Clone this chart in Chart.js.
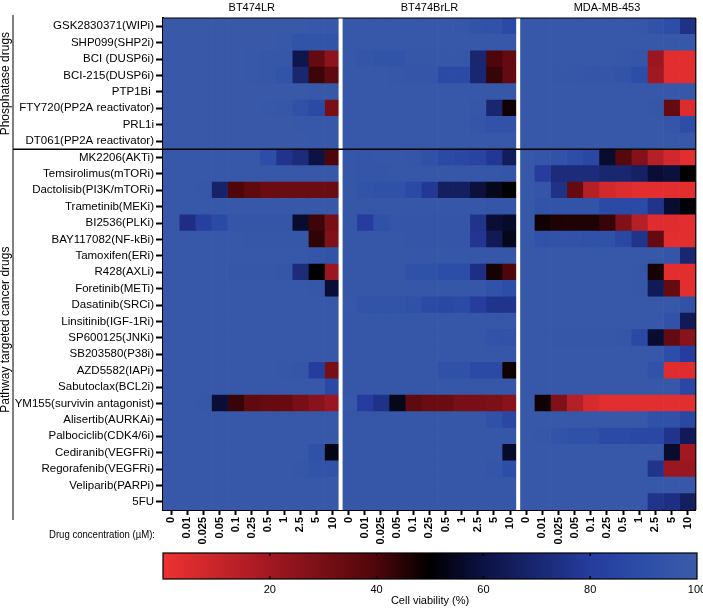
<!DOCTYPE html>
<html>
<head>
<meta charset="utf-8">
<script src="https://cdn.jsdelivr.net/npm/chart.js@4"></script>
<style>
  body { margin: 0; background: #fff; }
  canvas { display: block; }
</style>
</head>
<body>
<canvas id="heat" width="703" height="548"></canvas>
<canvas id="bar" width="703" height="60"></canvas>
<script>
// Drugs (rows, top to bottom)
const drugs = [
    'GSK2830371(WIPi)', 'SHP099(SHP2i)', 'BCI (DUSP6i)', 'BCI-215(DUSP6i)', 'PTP1Bi ',
    'FTY720(PP2A reactivator)', 'PRL1i', 'DT061(PP2A reactivator)',
    'MK2206(AKTi)', 'Temsirolimus(mTORi)', 'Dactolisib(PI3K/mTORi)', 'Trametinib(MEKi)',
    'BI2536(PLKi)', 'BAY117082(NF-kBi)', 'Tamoxifen(ERi)', 'R428(AXLi)', 'Foretinib(METi)',
    'Dasatinib(SRCi)', 'Linsitinib(IGF-1Ri)', 'SP600125(JNKi)', 'SB203580(P38i)',
    'AZD5582(IAPi)', 'Sabutoclax(BCL2i)', 'YM155(survivin antagonist)', 'Alisertib(AURKAi)',
    'Palbociclib(CDK4/6i)', 'Cediranib(VEGFRi)', 'Regorafenib(VEGFRi)', 'Veliparib(PARPi)', '5FU'
];
const groups = ['Phosphatase drugs', 'Pathway targeted cancer drugs'];
const cellLines = ['BT474LR', 'BT474BrLR', 'MDA-MB-453'];
const concentrations = ['0', '0.01', '0.025', '0.05', '0.1', '0.25', '0.5', '1', '2.5', '5', '10'];

// Cell viability (%) per drug row, per concentration
const bt474lr = [
    [98, 98, 98, 98, 98, 98, 98, 98, 98, 97, 97],
    [98, 98, 98, 98, 98, 98, 98, 97, 94, 94, 94],
    [98, 98, 98, 98, 98, 97, 96, 96, 62, 35, 25],
    [98, 98, 98, 98, 98, 97, 96, 94, 70, 42, 36],
    [98, 98, 98, 98, 98, 98, 98, 98, 98, 97, 97],
    [98, 98, 98, 98, 98, 98, 97, 96, 92, 88, 30],
    [98, 98, 98, 98, 98, 98, 98, 98, 97, 97, 97],
    [98, 98, 98, 98, 98, 98, 98, 98, 98, 97, 97],
    [97, 97, 97, 97, 97, 97, 90, 76, 72, 60, 40],
    [97, 97, 97, 97, 97, 97, 97, 97, 97, 97, 97],
    [97, 97, 96, 68, 40, 36, 33, 33, 33, 33, 33],
    [97, 97, 97, 97, 97, 97, 97, 97, 97, 97, 97],
    [97, 74, 82, 88, 95, 95, 95, 95, 57, 42, 30],
    [97, 97, 97, 97, 97, 96, 96, 96, 96, 44, 28],
    [97, 97, 97, 97, 97, 97, 97, 97, 97, 95, 94],
    [97, 97, 97, 97, 96, 96, 96, 95, 72, 50, 22],
    [97, 97, 97, 97, 97, 97, 97, 97, 97, 96, 58],
    [97, 97, 97, 97, 97, 97, 97, 97, 97, 97, 97],
    [97, 97, 97, 97, 97, 97, 97, 97, 97, 97, 97],
    [97, 97, 97, 97, 97, 97, 97, 97, 97, 97, 97],
    [97, 97, 97, 97, 97, 97, 97, 97, 97, 97, 97],
    [97, 97, 97, 97, 97, 97, 97, 96, 95, 80, 30],
    [97, 97, 97, 97, 97, 97, 97, 97, 97, 97, 87],
    [97, 97, 96, 58, 43, 36, 34, 34, 30, 26, 22],
    [97, 97, 97, 97, 97, 97, 97, 97, 97, 97, 97],
    [97, 97, 97, 97, 97, 97, 97, 97, 97, 97, 97],
    [97, 97, 97, 97, 97, 97, 97, 97, 97, 92, 53],
    [97, 97, 97, 97, 97, 97, 97, 97, 96, 94, 93],
    [97, 97, 97, 97, 97, 97, 97, 97, 97, 97, 97],
    [97, 97, 97, 97, 97, 97, 97, 97, 97, 97, 97]
];
const bt474brlr = [
    [97, 97, 97, 97, 97, 97, 97, 96, 94, 93, 88],
    [97, 97, 97, 97, 97, 97, 97, 97, 97, 97, 97],
    [97, 95, 94, 94, 96, 96, 96, 96, 70, 40, 35],
    [97, 97, 97, 96, 95, 95, 88, 88, 70, 43, 35],
    [97, 97, 97, 97, 97, 97, 97, 97, 97, 97, 97],
    [97, 97, 97, 97, 97, 97, 97, 97, 96, 70, 48],
    [97, 97, 97, 97, 97, 97, 97, 97, 95, 93, 93],
    [97, 97, 97, 97, 97, 97, 97, 97, 97, 97, 97],
    [96, 95, 96, 96, 95, 92, 88, 86, 84, 78, 65],
    [96, 95, 95, 96, 96, 96, 96, 96, 96, 96, 95],
    [96, 94, 92, 92, 88, 78, 66, 66, 59, 54, 50],
    [96, 96, 96, 96, 96, 96, 96, 96, 96, 95, 95],
    [96, 80, 92, 95, 95, 95, 95, 95, 76, 58, 56],
    [96, 96, 96, 96, 95, 95, 95, 95, 77, 64, 54],
    [96, 96, 96, 96, 96, 96, 96, 96, 96, 96, 96],
    [96, 96, 96, 96, 92, 92, 90, 90, 74, 47, 40],
    [96, 96, 96, 96, 96, 96, 96, 96, 96, 93, 90],
    [97, 94, 94, 94, 92, 88, 86, 88, 80, 76, 76],
    [96, 96, 96, 96, 96, 96, 96, 96, 96, 96, 96],
    [96, 96, 96, 96, 96, 96, 96, 96, 96, 94, 93],
    [96, 96, 96, 96, 96, 96, 96, 96, 96, 96, 96],
    [96, 96, 96, 96, 96, 96, 92, 92, 88, 88, 48],
    [96, 96, 96, 96, 96, 96, 96, 96, 96, 96, 96],
    [97, 80, 75, 54, 36, 33, 33, 30, 30, 29, 26],
    [96, 96, 96, 96, 96, 96, 96, 96, 96, 92, 86],
    [96, 96, 96, 96, 96, 96, 96, 96, 96, 96, 96],
    [96, 96, 96, 96, 96, 96, 96, 96, 96, 96, 56],
    [96, 96, 96, 96, 96, 96, 96, 96, 96, 95, 90],
    [96, 96, 96, 96, 96, 96, 96, 96, 96, 96, 96],
    [96, 96, 96, 96, 96, 96, 96, 96, 96, 96, 96]
];
const mdamb453 = [
    [97, 97, 97, 97, 97, 97, 97, 96, 93, 90, 75],
    [97, 97, 97, 97, 97, 97, 97, 97, 97, 97, 97],
    [97, 97, 97, 97, 97, 97, 96, 95, 22, 3, 3],
    [97, 97, 96, 96, 95, 95, 94, 90, 20, 3, 3],
    [97, 97, 97, 97, 97, 97, 97, 97, 97, 97, 97],
    [97, 97, 97, 97, 97, 97, 97, 97, 96, 35, 5],
    [97, 97, 97, 97, 97, 97, 97, 97, 97, 95, 90],
    [97, 97, 97, 97, 97, 97, 97, 97, 97, 97, 97],
    [97, 95, 93, 90, 86, 57, 38, 27, 15, 8, 3],
    [97, 80, 72, 72, 72, 70, 70, 67, 58, 59, 50],
    [97, 95, 75, 35, 15, 7, 5, 3, 3, 3, 3],
    [97, 94, 94, 94, 94, 88, 88, 88, 76, 57, 51],
    [97, 48, 46, 46, 46, 43, 28, 15, 4, 4, 3],
    [97, 93, 93, 93, 92, 92, 86, 76, 35, 3, 3],
    [97, 97, 97, 97, 97, 97, 97, 97, 97, 95, 70],
    [97, 97, 97, 97, 97, 97, 97, 96, 47, 3, 3],
    [97, 97, 97, 97, 97, 97, 97, 96, 64, 35, 3],
    [97, 97, 97, 97, 97, 97, 97, 97, 97, 97, 93],
    [97, 97, 97, 97, 97, 97, 97, 97, 97, 93, 64],
    [97, 97, 96, 96, 96, 96, 95, 87, 57, 35, 26],
    [97, 97, 97, 97, 97, 97, 97, 97, 97, 90, 80],
    [97, 97, 97, 97, 97, 97, 97, 97, 93, 4, 4],
    [97, 97, 97, 97, 97, 97, 97, 97, 97, 97, 86],
    [97, 48, 28, 15, 6, 3, 3, 3, 3, 3, 3],
    [97, 97, 97, 97, 97, 97, 97, 97, 92, 92, 86],
    [97, 96, 94, 92, 92, 88, 88, 86, 86, 76, 64],
    [97, 97, 97, 97, 97, 97, 97, 97, 97, 57, 20],
    [97, 97, 97, 97, 97, 97, 97, 97, 76, 22, 22],
    [97, 97, 97, 97, 97, 97, 97, 97, 97, 97, 97],
    [97, 97, 97, 97, 97, 97, 97, 97, 76, 74, 66]
];
const blocks = [bt474lr, bt474brlr, mdamb453];

// Colour scale: red (0) -> black (50) -> blue (100)
const colorStops = [
    [0, [238, 50, 50]],
    [20, [162, 24, 34]],
    [40, [78, 6, 10]],
    [50, [0, 0, 0]],
    [60, [12, 18, 68]],
    [80, [38, 60, 158]],
    [90, [44, 78, 168]],
    [100, [60, 92, 168]]
];

function viabilityColor(v) {
    for (let i = 1; i < colorStops.length; i++) {
        const [v1, c1] = colorStops[i];
        const [v0, c0] = colorStops[i - 1];
        if (v <= v1) {
            const t = (v - v0) / (v1 - v0);
            const c = c0.map((ch, k) => Math.round(ch + (c1[k] - ch) * t));
            return `rgb(${c[0]},${c[1]},${c[2]})`;
        }
    }
    const last = colorStops[colorStops.length - 1][1];
    return `rgb(${last[0]},${last[1]},${last[2]})`;
}

Chart.defaults.font.family = '"Liberation Sans", Arial, sans-serif';
Chart.defaults.color = '#000';

const nCols = cellLines.length * concentrations.length;

// One stacked dataset per column (cell line x concentration)
const datasets = [];
blocks.forEach((block, b) => {
    concentrations.forEach((conc, c) => {
        datasets.push({
            label: cellLines[b] + ' ' + conc,
            data: drugs.map(() => 1),
            backgroundColor: block.map(row => viabilityColor(row[c])),
            borderWidth: 0,
            barPercentage: 1,
            categoryPercentage: 1
        });
    });
});

function line(ctx, x1, y1, x2, y2) {
    ctx.beginPath();
    ctx.moveTo(x1, y1);
    ctx.lineTo(x2, y2);
    ctx.stroke();
}

// Extra decorations: block gaps, frame, group brackets, headers
const heatDecor = {
    id: 'heatDecor',
    afterDatasetsDraw(chart) {
        const { ctx, chartArea: a, scales: { x, y } } = chart;
        ctx.save();

        // white gaps between cell lines
        ctx.strokeStyle = '#fff';
        ctx.lineWidth = 4;
        for (let b = 1; b < cellLines.length; b++) {
            const px = x.getPixelForValue(b * concentrations.length);
            line(ctx, px, a.top, px, a.bottom);
        }

        // frame
        ctx.strokeStyle = '#000';
        ctx.lineWidth = 1.2;
        line(ctx, a.left, a.top, a.right, a.top);
        line(ctx, a.right, a.top, a.right, a.bottom);

        // group separator and bracket
        const yb = (y.getPixelForValue(7) + y.getPixelForValue(8)) / 2;
        ctx.lineWidth = 1.5;
        line(ctx, 13, yb, a.right, yb);
        ctx.lineWidth = 1;
        line(ctx, 13, 15, 13, 520);

        // group labels
        ctx.font = '12px "Liberation Sans", Arial, sans-serif';
        ctx.fillStyle = '#000';
        ctx.textAlign = 'center';
        ctx.textBaseline = 'middle';
        const groupMid = [(a.top + yb) / 2, (yb + 520) / 2 - 5];
        groups.forEach((g, i) => {
            ctx.save();
            ctx.translate(6, groupMid[i]);
            ctx.rotate(-Math.PI / 2);
            ctx.fillText(g, 0, 0);
            ctx.restore();
        });

        // cell line headers
        ctx.font = '11px "Liberation Sans", Arial, sans-serif';
        cellLines.forEach((name, b) => {
            const cx = x.getPixelForValue(b * concentrations.length + concentrations.length / 2);
            ctx.fillText(name, cx, 8);
        });

        // x axis caption
        ctx.textAlign = 'right';
        ctx.font = '11px "Liberation Sans", Arial, sans-serif';
        ctx.fillText('Drug concentration (\u00b5M):', 155, 535, 106);

        ctx.restore();
    }
};

new Chart(document.getElementById('heat'), {
    type: 'bar',
    data: { labels: drugs, datasets },
    options: {
        indexAxis: 'y',
        responsive: false,
        animation: false,
        layout: { padding: { top: 18, right: 6, left: 0, bottom: 0 } },
        plugins: { legend: { display: false }, tooltip: { enabled: false } },
        scales: {
            x: {
                type: 'linear',
                stacked: true,
                min: 0,
                max: nCols,
                afterBuildTicks: scale => {
                    scale.ticks = [];
                    for (let i = 0; i < nCols; i++) scale.ticks.push({ value: i + 0.5 });
                },
                afterFit: scale => { scale.height = 38; },
                ticks: {
                    autoSkip: false,
                    maxRotation: 90,
                    minRotation: 90,
                    padding: 2,
                    font: { size: 11, weight: 'bold' },
                    callback: value => concentrations[Math.floor(value) % concentrations.length]
                },
                grid: {
                    drawOnChartArea: false,
                    tickLength: 5,
                    tickWidth: 2,
                    tickColor: '#000'
                },
                border: { color: '#000', width: 2 }
            },
            y: {
                stacked: true,
                afterFit: scale => { scale.width = 163; },
                ticks: {
                    autoSkip: false,
                    padding: 2,
                    font: { size: 11.5 }
                },
                grid: {
                    offset: false,
                    drawOnChartArea: false,
                    tickLength: 7,
                    tickWidth: 2,
                    tickColor: '#000'
                },
                border: { color: '#000', width: 2 }
            }
        }
    },
    plugins: [heatDecor]
});

// Colour bar legend
const barTicks = [20, 40, 60, 80];
const barDecor = {
    id: 'barDecor',
    afterDatasetsDraw(chart) {
        const { ctx, chartArea: a, scales: { x } } = chart;
        ctx.save();
        ctx.strokeStyle = '#000';
        ctx.lineWidth = 1.2;
        ctx.strokeRect(a.left, a.top, a.width, a.height);
        ctx.lineWidth = 1.5;
        barTicks.forEach(v => {
            const px = x.getPixelForValue(v);
            line(ctx, px, a.top, px, a.top + 3);
            line(ctx, px, a.bottom - 3, px, a.bottom);
        });
        ctx.restore();
    }
};

new Chart(document.getElementById('bar'), {
    type: 'bar',
    data: {
        labels: [''],
        datasets: [{
            data: [[0, 100]],
            barPercentage: 1,
            categoryPercentage: 1,
            borderWidth: 0,
            backgroundColor: context => {
                const area = context.chart.chartArea;
                if (!area) return null;
                const g = context.chart.ctx.createLinearGradient(area.left, 0, area.right, 0);
                colorStops.forEach(([v, c]) => g.addColorStop(v / 100, `rgb(${c[0]},${c[1]},${c[2]})`));
                return g;
            }
        }]
    },
    options: {
        indexAxis: 'y',
        responsive: false,
        animation: false,
        layout: { padding: { top: 5, right: 6, left: 163, bottom: 0 } },
        plugins: { legend: { display: false }, tooltip: { enabled: false } },
        scales: {
            x: {
                min: 0,
                max: 100,
                afterFit: scale => {
                    scale.height = 29;
                    scale.paddingLeft = 0;
                    scale.paddingRight = 0;
                },
                ticks: {
                    stepSize: 20,
                    padding: 4,
                    font: { size: 11 },
                    callback: v => (v === 0 ? '' : v)
                },
                grid: { display: false, drawTicks: false },
                border: { display: false },
                title: {
                    display: true,
                    text: 'Cell viability (%)',
                    font: { size: 11 },
                    padding: { top: 1, bottom: 0 }
                }
            },
            y: { display: false }
        }
    },
    plugins: [barDecor]
});
</script>
</body>
</html>
